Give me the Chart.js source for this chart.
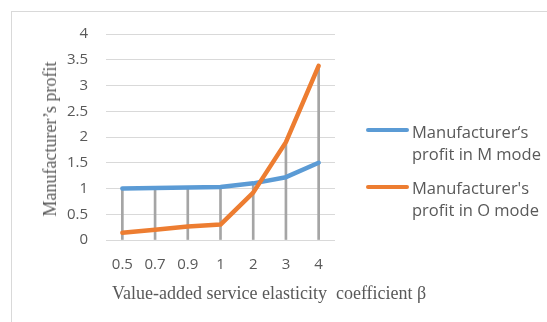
<!DOCTYPE html>
<html>
<head>
<meta charset="utf-8">
<script src="https://cdn.jsdelivr.net/npm/chart.js@4/dist/chart.umd.min.js"></script>
<style>
  html, body { margin: 0; padding: 0; background: #fff; }
  #wrap { position: relative; width: 547px; height: 322px; overflow: hidden; }
  #frame { position: absolute; left: 11px; top: 11px; width: 600px; height: 400px;
           border-top: 1px solid #d9d9d9; border-left: 1px solid #d9d9d9; }
  #chart { position: absolute; left: 0; top: 0; }
  .leg { position: absolute; left: 366px; font-family: "Open Sans", sans-serif; font-size: 16.5px;
         line-height: 21.6px; color: #595959; }
  .leg .sym { position: absolute; left: 0; width: 43px; height: 4px; border-radius: 2px; }
  .leg .txt { position: absolute; left: 46px; top: 0; white-space: nowrap; }
  .axt { position: absolute; font-family: "Liberation Serif", "Times New Roman", serif;
         font-size: 18px; line-height: 22px; color: #595959; white-space: pre; }
  #xtitle { left: 112px; top: 282px; }
  #ytitle { left: 50px; top: 139px; transform: translate(-50%, -50%) rotate(-90deg); }
</style>
</head>
<body>
<div id="wrap">
  <div id="frame"></div>
  <canvas id="chart" width="547" height="322"></canvas>
  <div class="leg" style="top:121px">
    <div class="sym" style="background:#5b9bd5; top:7px"></div>
    <div class="txt">Manufacturer‘s<br>profit in M mode</div>
  </div>
  <div class="leg" style="top:177px">
    <div class="sym" style="background:#ed7d31; top:8px"></div>
    <div class="txt">Manufacturer's<br>profit in O mode</div>
  </div>
  <div class="axt" id="xtitle">Value-added service elasticity  coefficient β</div>
  <div class="axt" id="ytitle">Manufacturer’s profit</div>
</div>
<script>
// Value-added service elasticity coefficient β
const categories = ['0.5', '0.7', '0.9', '1', '2', '3', '4'];
// Manufacturer's profit in each mode
const profitM = [1.0, 1.01, 1.02, 1.03, 1.1, 1.22, 1.5];
const profitO = [0.14, 0.2, 0.26, 0.3, 0.92, 1.9, 3.38];
// Y axis ticks
const yTicks = [0, 0.5, 1, 1.5, 2, 2.5, 3, 3.5, 4];

// drop lines reach from the higher of the two series down to the axis
const dropLines = categories.map((_, i) => Math.max(profitM[i], profitO[i]));

new Chart(document.getElementById('chart'), {
  data: {
    labels: categories,
    datasets: [
      {
        type: 'line', label: 'Manufacturer\'s profit in O mode', data: profitO,
        borderColor: '#ed7d31', borderWidth: 4.5, pointRadius: 0, tension: 0,
        borderCapStyle: 'round', borderJoinStyle: 'round', order: 1
      },
      {
        type: 'line', label: 'Manufacturer‘s profit in M mode', data: profitM,
        borderColor: '#5b9bd5', borderWidth: 4.5, pointRadius: 0, tension: 0,
        borderCapStyle: 'round', borderJoinStyle: 'round', order: 2
      },
      {
        type: 'bar', label: 'drop', data: dropLines,
        backgroundColor: '#a5a5a5', barThickness: 2, order: 3
      }
    ]
  },
  options: {
    responsive: false,
    animation: false,
    layout: { padding: { left: 30, right: 212, top: 34, bottom: 0 } },
    plugins: { legend: { display: false }, tooltip: { enabled: false } },
    scales: {
      x: {
        grid: { display: false, drawTicks: false },
        border: { display: false },
        ticks: { color: '#595959', font: { family: 'Open Sans', size: 15 }, padding: 16 },
        afterFit: s => { s.height = 82; }
      },
      y: {
        min: 0, max: 4,
        afterBuildTicks: s => { s.ticks = yTicks.map(v => ({ value: v })); },
        grid: { color: '#d9d9d9', lineWidth: 1, drawTicks: false },
        border: { display: false },
        ticks: {
          color: '#595959', font: { family: 'Open Sans', size: 15 }, padding: 18,
          callback: v => String(v)
        },
        afterFit: s => { s.width = 76; }
      }
    }
  }
});
</script>
</body>
</html>
